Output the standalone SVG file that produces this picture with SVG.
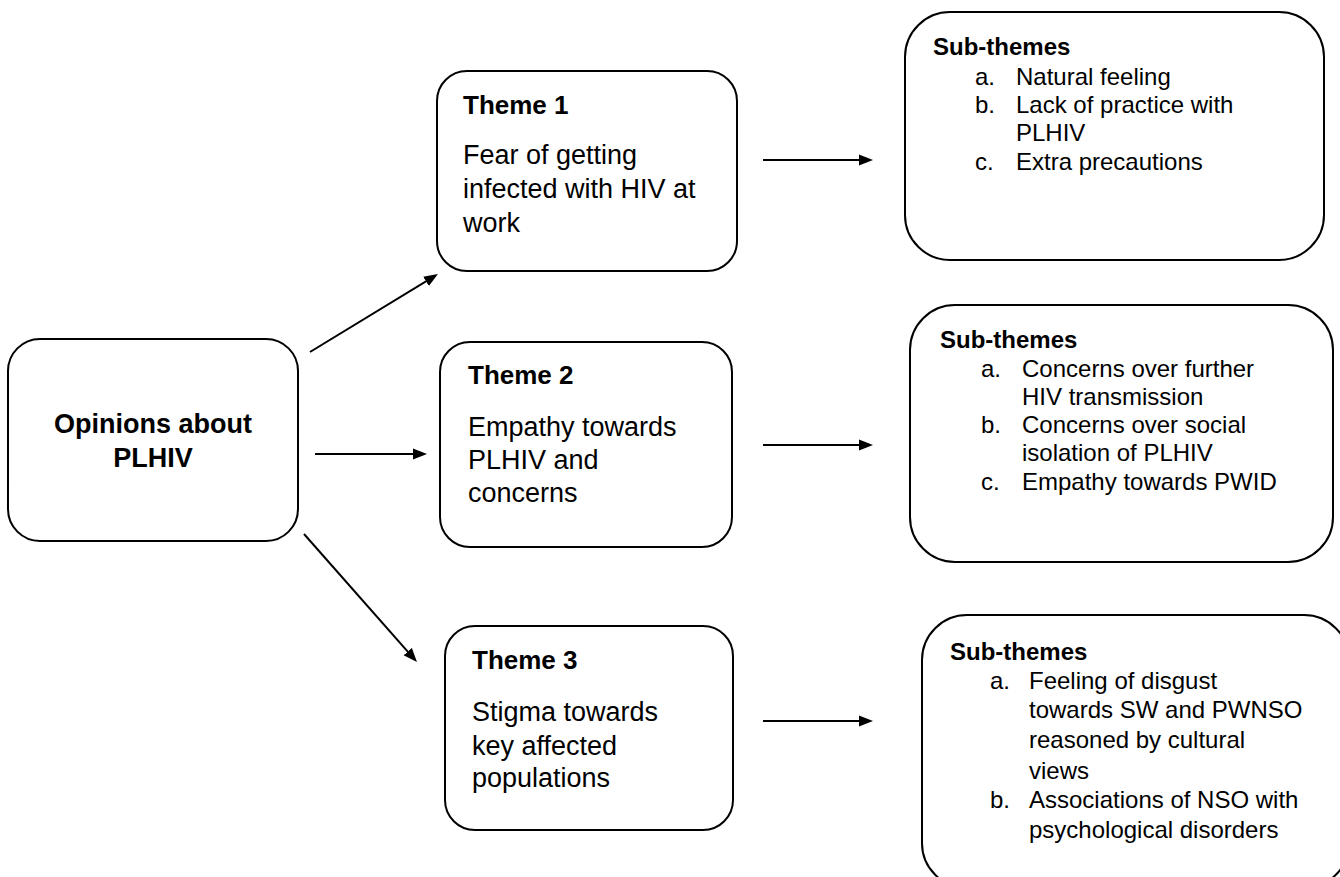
<svg xmlns="http://www.w3.org/2000/svg" width="1340" height="877" viewBox="0 0 1340 877">
<style>
.box{fill:#fff;stroke:#000;stroke-width:2}
.t{font-family:"Liberation Sans",Arial,sans-serif;fill:#000}
.b{font-weight:bold}
.conn line{stroke:#000;stroke-width:2}
</style>
<defs>
<marker id="ah" markerUnits="userSpaceOnUse" markerWidth="14" markerHeight="12" refX="11" refY="6" orient="auto">
<path d="M0,0.5 L14,6 L0,11.5 Z" fill="#000"/>
</marker>
</defs>
<rect width="1340" height="877" fill="#fff"/>
<g id="main">
<rect class="box" x="8" y="339" width="290" height="202" rx="32"/>
<text class="t b" font-size="27" text-anchor="middle"><tspan x="153" y="433">Opinions about</tspan><tspan x="153" y="467">PLHIV</tspan></text>
</g>
<g id="theme1">
<rect class="box" x="437" y="71" width="300" height="200" rx="30"/>
<text class="t b" font-size="26" x="463" y="114">Theme 1</text>
<text class="t" font-size="27"><tspan x="463" y="164">Fear of getting</tspan><tspan x="463" y="198">infected with HIV at</tspan><tspan x="463" y="232">work</tspan></text>
</g>
<g id="theme2">
<rect class="box" x="440" y="342" width="292" height="205" rx="30"/>
<text class="t b" font-size="26" x="468" y="384">Theme 2</text>
<text class="t" font-size="27"><tspan x="468" y="436">Empathy towards</tspan><tspan x="468" y="469">PLHIV and</tspan><tspan x="468" y="502">concerns</tspan></text>
</g>
<g id="theme3">
<rect class="box" x="445" y="626" width="288" height="204" rx="30"/>
<text class="t b" font-size="26" x="472" y="669">Theme 3</text>
<text class="t" font-size="27"><tspan x="472" y="721">Stigma towards</tspan><tspan x="472" y="755">key affected</tspan><tspan x="472" y="787">populations</tspan></text>
</g>
<g id="sub1">
<rect class="box" x="905" y="12" width="419" height="248" rx="45"/>
<text class="t b" font-size="24" x="933" y="55">Sub-themes</text>
<text class="t" font-size="24"><tspan x="975" y="85">a.</tspan><tspan x="1016" y="85">Natural feeling</tspan><tspan x="975" y="113">b.</tspan><tspan x="1016" y="113">Lack of practice with</tspan><tspan x="1016" y="141">PLHIV</tspan><tspan x="975" y="170">c.</tspan><tspan x="1016" y="170">Extra precautions</tspan></text>
</g>
<g id="sub2">
<rect class="box" x="910" y="305" width="423" height="257" rx="45"/>
<text class="t b" font-size="24" x="940" y="348">Sub-themes</text>
<text class="t" font-size="24"><tspan x="981" y="377">a.</tspan><tspan x="1022" y="377">Concerns over further</tspan><tspan x="1022" y="405">HIV transmission</tspan><tspan x="981" y="433">b.</tspan><tspan x="1022" y="433">Concerns over social</tspan><tspan x="1022" y="461">isolation of PLHIV</tspan><tspan x="981" y="490">c.</tspan><tspan x="1022" y="490">Empathy towards PWID</tspan></text>
</g>
<g id="sub3">
<rect class="box" x="922" y="615" width="427" height="273" rx="45"/>
<text class="t b" font-size="24" x="950" y="660">Sub-themes</text>
<text class="t" font-size="24"><tspan x="990" y="689">a.</tspan><tspan x="1029" y="689">Feeling of disgust</tspan><tspan x="1029" y="718">towards SW and PWNSO</tspan><tspan x="1029" y="748">reasoned by cultural</tspan><tspan x="1029" y="779">views</tspan><tspan x="990" y="808">b.</tspan><tspan x="1029" y="808">Associations of NSO with</tspan><tspan x="1029" y="838">psychological disorders</tspan></text>
</g>
<g id="connectors" class="conn">
<line x1="310" y1="352" x2="435.4" y2="275.6" marker-end="url(#ah)"/>
<line x1="315" y1="454" x2="424" y2="454" marker-end="url(#ah)"/>
<line x1="304" y1="534" x2="415" y2="659.8" marker-end="url(#ah)"/>
<line x1="763" y1="160" x2="870" y2="160" marker-end="url(#ah)"/>
<line x1="763" y1="445" x2="870" y2="445" marker-end="url(#ah)"/>
<line x1="763" y1="721" x2="870" y2="721" marker-end="url(#ah)"/>
</g>
</svg>
